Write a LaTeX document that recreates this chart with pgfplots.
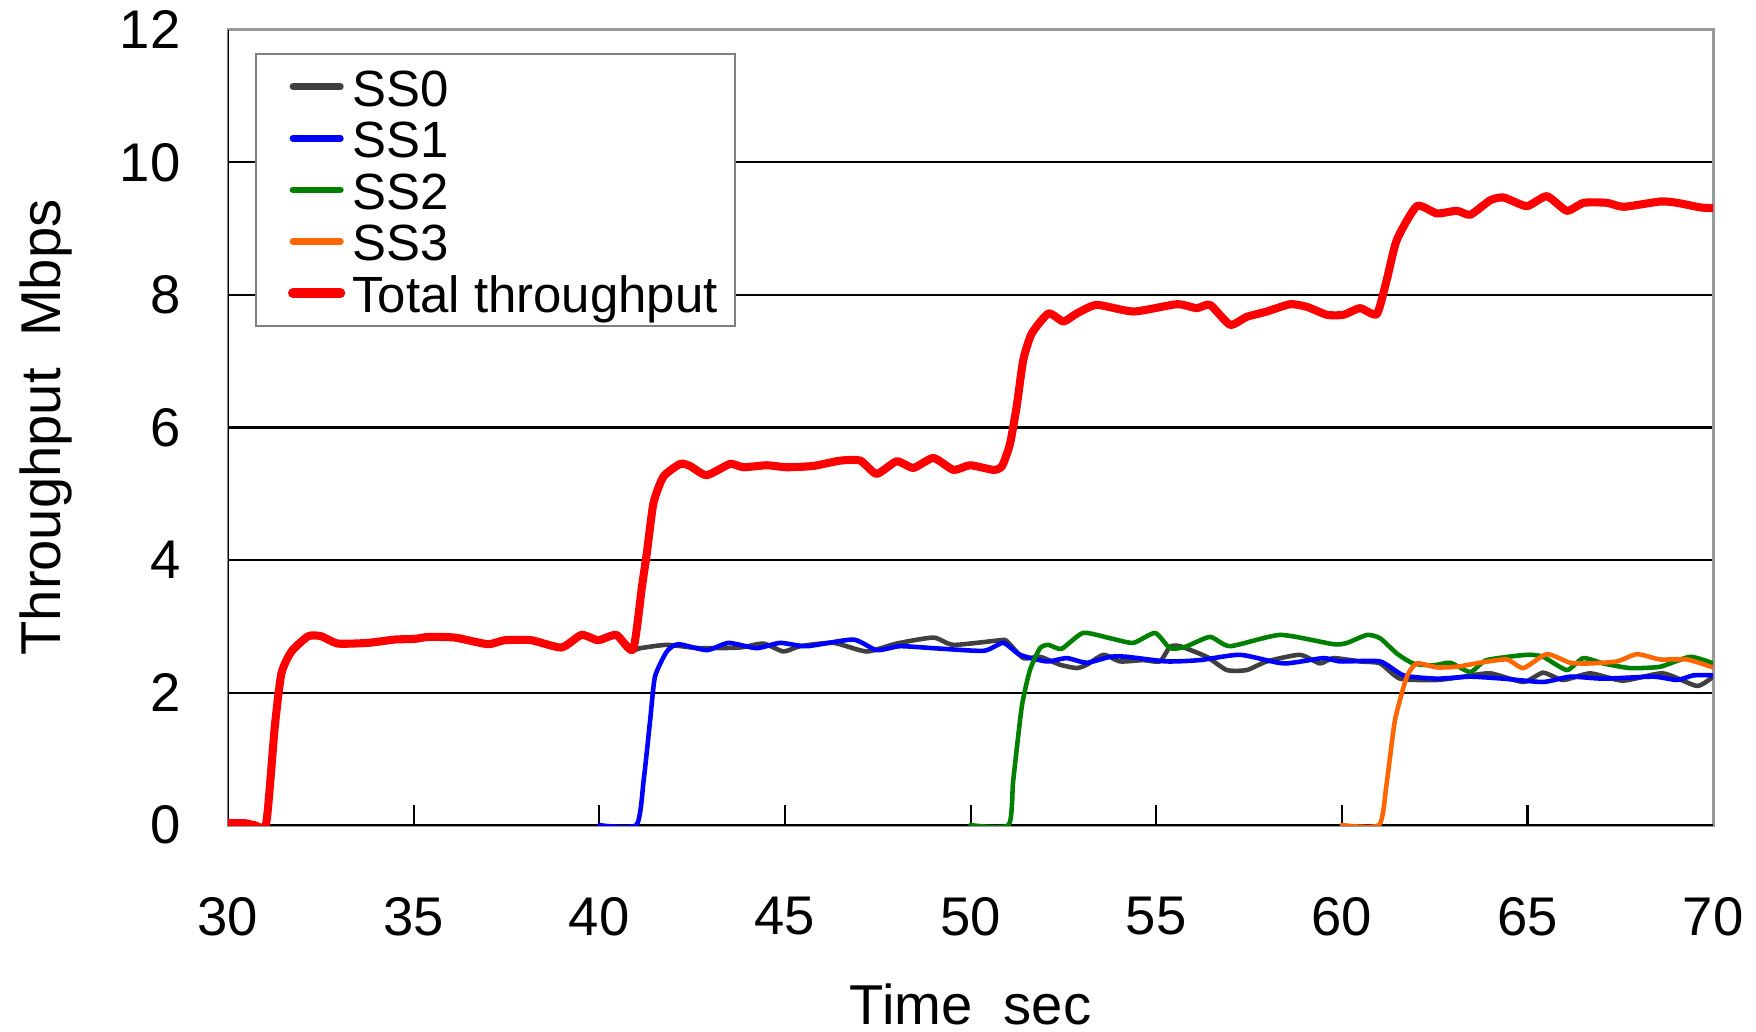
\documentclass[border=0pt]{standalone}
\usepackage{fontspec}
\setmainfont{Liberation Sans}
\usepackage{pgfplots}
\pgfplotsset{compat=1.18}
\definecolor{ssgray}{HTML}{404040}
\definecolor{ssblue}{HTML}{0000FF}
\definecolor{ssgreen}{HTML}{008000}
\definecolor{ssorange}{HTML}{FF6600}
\definecolor{ssred}{HTML}{FF0000}
\begin{document}
\begin{tikzpicture}
\begin{axis}[
  scale only axis, width=422.8pt, height=226.4pt,
  xmin=30, xmax=70, ymin=0, ymax=12,
  xtick={30,35,...,70}, ytick={0,2,...,10},
  extra y ticks={12}, extra y tick style={grid=none},
  ymajorgrids, grid style={black, line width=0.6pt},
  axis line style={draw=gray!80, line width=0.8pt},
  axis on top=false,
  xtick pos=lower, ytick pos=left,
  xtick align=inside, major tick length=5.7pt,
  tick style={black, line width=0.6pt},
  ytick style={draw=none},
  /pgf/number format/assume math mode=true,
  ticklabel style={font=\fontsize{15.5}{16}\selectfont},
  xticklabel style={yshift=-17pt},
  yticklabel style={xshift=-10pt},
  xlabel={Time\ \ sec}, ylabel={Throughput\ \ Mbps},
  label style={font=\fontsize{16}{18}\selectfont},
  xlabel style={at={(rel axis cs:0.5,-0.225)}, anchor=center},
  ylabel style={at={(rel axis cs:-0.1228,0.5)}, anchor=center},
  legend style={at={(rel axis cs:0,1)}, anchor=north west, xshift=7.7pt, yshift=-6.5pt,
    draw=gray, line width=0.6pt, inner xsep=3pt, inner ysep=2pt,
    font=\fontsize{14.5}{15}\selectfont,
    nodes={inner ysep=0.6pt, inner xsep=2pt, text height=12.3pt, text depth=1.2pt}},
  legend cell align=left,
  legend image code/.code={\path[draw=none] (0pt,-1pt) rectangle (22.3pt,1pt); \draw[#1] plot coordinates {(7.5pt,0pt) (21pt,0pt)};},
  every axis plot/.append style={smooth, tension=0.35, line join=round, line cap=round},
]
\draw[black, line width=0.8pt] (rel axis cs:0,1) -- (rel axis cs:0,0) -- (rel axis cs:1,0);
% SS0
\addplot[ssgray, line width=1.3pt, legend image post style={line width=1.9pt}] coordinates {
(30,0.03)(30.45,0.03)(30.72,0.0)(31.03,0.03)(31.26,1.48)(31.44,2.29)(31.71,2.62)(32.16,2.85)(32.51,2.85)(32.96,2.74)(33.77,2.75)(34.49,2.80)(35.03,2.81)(35.39,2.84)(36.11,2.83)(37.0,2.73)(37.45,2.79)(38.17,2.79)(38.98,2.68)(39.52,2.87)(39.97,2.79)(40.46,2.87)(40.91,2.65)
(41.1,2.67)(41.82,2.72)(42.71,2.67)(43.79,2.68)(44.42,2.74)(44.96,2.62)(45.41,2.70)(46.31,2.75)(47.2,2.62)(48.01,2.74)(49.0,2.83)(49.54,2.72)(50.80,2.79)(50.97,2.78)(51.42,2.52)(51.87,2.54)(52.41,2.42)(52.86,2.37)(53.13,2.42)(53.58,2.57)(54.03,2.47)(54.65,2.49)(55.1,2.47)(55.37,2.69)(55.64,2.70)(56.36,2.54)(56.9,2.34)(57.44,2.34)(57.98,2.47)(58.87,2.57)(59.41,2.44)(59.77,2.52)(60.5,2.47)(61.03,2.44)(61.57,2.21)(62.56,2.19)(63.28,2.24)(64.0,2.29)(64.89,2.16)(65.42,2.30)(65.96,2.19)(66.69,2.29)(67.57,2.18)(68.65,2.29)(69.56,2.10)(70,2.24)};
\addlegendentry{SS0}
% SS1
\addplot[ssblue, line width=1.3pt, legend image post style={line width=1.9pt}] coordinates {
(40,0)(41.0,0)(41.2,0.7)(41.37,1.58)(41.50,2.24)(41.82,2.62)(42.13,2.73)(42.9,2.64)(43.48,2.75)(44.24,2.67)(44.87,2.75)(45.59,2.70)(46.84,2.80)(47.47,2.64)(48.1,2.70)(49.0,2.67)(50.35,2.63)(50.88,2.75)(51.33,2.57)(52.05,2.47)(52.59,2.52)(53.13,2.45)(53.76,2.54)(54.21,2.54)(55.28,2.47)(56.18,2.49)(57.26,2.57)(58.43,2.44)(59.5,2.52)(59.95,2.47)(61.03,2.47)(61.66,2.26)(62.56,2.21)(63.46,2.24)(64.35,2.21)(65.42,2.16)(66.15,2.24)(67.04,2.21)(68.39,2.24)(69.03,2.19)(69.47,2.26)(70,2.26)};
\addlegendentry{SS1}
% SS2
\addplot[ssgreen, line width=1.3pt, legend image post style={line width=1.9pt}] coordinates {
(50,0)(51.02,0)(51.15,0.68)(51.38,1.79)(51.6,2.34)(51.87,2.67)(52.1,2.72)(52.45,2.66)(53.03,2.90)(53.76,2.82)(54.38,2.75)(54.97,2.90)(55.37,2.67)(55.78,2.69)(56.45,2.84)(56.99,2.70)(58.34,2.87)(59.77,2.73)(60.14,2.75)(60.68,2.87)(61.03,2.82)(61.48,2.59)(61.92,2.44)(62.46,2.41)(62.92,2.45)(63.46,2.31)(63.9,2.49)(64.98,2.57)(65.42,2.54)(66.06,2.34)(66.5,2.52)(67.04,2.44)(67.76,2.37)(68.57,2.39)(69.38,2.54)(70,2.44)};
\addlegendentry{SS2}
% SS3
\addplot[ssorange, line width=1.3pt, legend image post style={line width=1.9pt}] coordinates {
(60,0)(61.0,0)(61.2,0.6)(61.43,1.58)(61.75,2.24)(62.02,2.44)(62.56,2.38)(63.1,2.39)(63.72,2.45)(64.44,2.50)(64.89,2.37)(65.52,2.58)(66.15,2.45)(66.69,2.44)(67.41,2.47)(67.95,2.58)(68.57,2.50)(69.29,2.50)(70,2.38)};
\addlegendentry{SS3}
% Total
\addplot[ssred, line width=2.3pt, legend image post style={line width=2.8pt}] coordinates {
(30,0.03)(30.45,0.03)(30.72,0.0)(31.03,0.03)(31.26,1.48)(31.44,2.29)(31.71,2.62)(32.16,2.85)(32.51,2.85)(32.96,2.74)(33.77,2.75)(34.49,2.80)(35.03,2.81)(35.39,2.84)(36.11,2.83)(37.0,2.73)(37.45,2.79)(38.17,2.79)(38.98,2.68)(39.52,2.87)(39.97,2.79)(40.46,2.87)(40.91,2.65)
(41.15,3.6)(41.28,4.1)(41.46,4.86)(41.73,5.26)(42.18,5.45)(42.44,5.42)(42.89,5.28)(43.52,5.45)(43.88,5.40)(44.51,5.43)(45.05,5.40)(45.77,5.42)(46.49,5.50)(47.03,5.50)(47.47,5.30)(48.01,5.49)(48.46,5.39)(49.0,5.54)(49.54,5.36)(49.99,5.43)(50.62,5.36)(50.85,5.42)(51.06,5.75)(51.24,6.31)(51.42,7.02)(51.65,7.42)(52.1,7.72)(52.5,7.60)(52.86,7.72)(53.4,7.85)(54.39,7.75)(55.56,7.86)(56.09,7.80)(56.45,7.85)(56.99,7.55)(57.44,7.67)(57.98,7.75)(58.61,7.86)(59.06,7.82)(59.6,7.70)(60.04,7.70)(60.49,7.80)(60.94,7.71)(61.21,8.23)(61.48,8.83)(62.02,9.34)(62.56,9.23)(63.1,9.27)(63.46,9.21)(64.0,9.43)(64.36,9.47)(64.98,9.34)(65.52,9.49)(66.06,9.27)(66.51,9.39)(67.14,9.39)(67.59,9.33)(68.58,9.41)(69.03,9.39)(69.66,9.32)(70,9.31)};
\addlegendentry{Total throughput}
\end{axis}
\pgfresetboundingbox
\path[use as bounding box] ([shift={(-64.9pt,-58.7pt)}]current axis.south west) rectangle ([shift={(12.2pt,8.5pt)}]current axis.north east);
\end{tikzpicture}
\end{document}
